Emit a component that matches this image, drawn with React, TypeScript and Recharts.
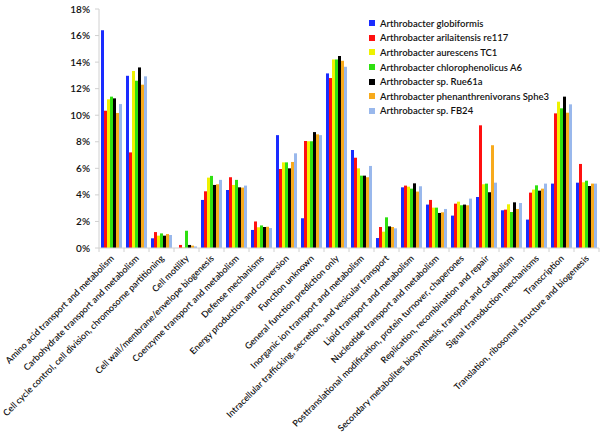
import React from 'react';
import { BarChart, Bar, XAxis, YAxis } from 'recharts';

const categories = [
  'Amino acid transport and metabolism',
  'Carbohydrate transport and metabolism',
  'Cell cycle control, cell division, chromosome partitioning',
  'Cell motility',
  'Cell wall/membrane/envelope biogenesis',
  'Coenzyme transport and metabolism',
  'Defense mechanisms',
  'Energy production and conversion',
  'Function unknown',
  'General function prediction only',
  'Inorganic ion transport and metabolism',
  'Intracellular trafficking, secretion, and vesicular transport',
  'Lipid transport and metabolism',
  'Nucleotide transport and metabolism',
  'Posttranslational modification, protein turnover, chaperones',
  'Replication, recombination and repair',
  'Secondary metabolites biosynthesis, transport and catabolism',
  'Signal transduction mechanisms',
  'Transcription',
  'Translation, ribosomal structure and biogenesis',
];

const globiformis = [16.4, 12.97, 0.73, 0, 3.62, 4.37, 1.36, 8.5, 2.24, 13.15, 7.38, 0.75, 4.57, 3.27, 2.44, 3.84, 2.84, 2.14, 4.85, 4.92];
const arilaitensis = [10.34, 7.2, 1.2, 0.23, 4.27, 5.33, 2.0, 5.95, 8.06, 12.8, 6.8, 1.58, 4.7, 3.62, 3.34, 9.24, 2.89, 4.17, 10.14, 6.33];
const aurescens = [11.2, 13.33, 0.93, 0.05, 5.3, 4.75, 1.56, 6.45, 8.04, 14.2, 6.0, 1.23, 4.62, 3.04, 3.49, 4.8, 3.29, 4.4, 11.02, 4.95];
const chlorophenolicus = [11.4, 12.6, 1.1, 1.3, 5.43, 5.13, 1.7, 6.45, 8.04, 14.2, 5.45, 2.31, 4.47, 3.04, 3.22, 4.85, 2.71, 4.72, 10.52, 5.07];
const rue61a = [11.27, 13.6, 0.93, 0.23, 4.75, 4.57, 1.58, 6.0, 8.73, 14.46, 5.45, 1.63, 4.87, 2.64, 3.27, 4.2, 3.44, 4.32, 11.4, 4.67];
const sphe3 = [10.17, 12.3, 1.05, 0.18, 4.8, 4.55, 1.6, 6.48, 8.56, 14.1, 5.33, 1.58, 4.25, 2.69, 3.22, 7.74, 2.94, 4.47, 10.19, 4.85];
const fb24 = [10.84, 12.93, 0.98, 0.12, 5.13, 4.7, 1.5, 7.13, 8.5, 13.65, 6.18, 1.48, 4.65, 2.94, 3.72, 4.92, 3.39, 4.85, 10.82, 4.85];

const yTicks = [0, 2, 4, 6, 8, 10, 12, 14, 16, 18];

const series = [
  { key: 'Arthrobacter globiformis', values: globiformis, color: '#1a2cff' },
  { key: 'Arthrobacter arilaitensis re117', values: arilaitensis, color: '#ff1010' },
  { key: 'Arthrobacter aurescens TC1', values: aurescens, color: '#eef200' },
  { key: 'Arthrobacter chlorophenolicus A6', values: chlorophenolicus, color: '#2ee010' },
  { key: 'Arthrobacter sp. Rue61a', values: rue61a, color: '#000000' },
  { key: 'Arthrobacter phenanthrenivorans Sphe3', values: sphe3, color: '#f7aa1c' },
  { key: 'Arthrobacter sp. FB24', values: fb24, color: '#99b8ec' },
];

const data = categories.map((name, i) => {
  const row: Record<string, any> = { name };
  series.forEach((s) => { row[s.key] = s.values[i]; });
  return row;
});

const FONT = 'Lato, "Open Sans", sans-serif';

const CategoryTick = (props: any) => {
  const { x, y, payload, index } = props;
  const half = 12.5;
  return (
    <g>
      <line x1={x - half} y1={y} x2={x - half} y2={y + 4} stroke="#d0d0d0" />
      {index === categories.length - 1 && (
        <line x1={x + half} y1={y} x2={x + half} y2={y + 4} stroke="#d0d0d0" />
      )}
      <text
        x={x + 3}
        y={y + 11}
        transform={`rotate(-45 ${x + 3} ${y + 11})`}
        textAnchor="end"
        fontSize={9}
        fontWeight={600}
        fontFamily={FONT}
        fill="#111"
      >
        {payload.value}
      </text>
    </g>
  );
};

export default function App() {
  return (
    <div style={{ position: 'absolute', left: 0, top: 0, width: 600, height: 439, background: '#fff' }}>
      <BarChart
        width={600}
        height={439}
        data={data}
        margin={{ top: 9, right: 1, bottom: 0, left: 0 }}
        barCategoryGap={2}
        barGap={0}
      >
        <XAxis
          dataKey="name"
          interval={0}
          height={191}
          tickLine={false}
          tickSize={0}
          tickMargin={0}
          axisLine={{ stroke: '#d0d0d0' }}
          tick={<CategoryTick />}
        />
        <YAxis
          width={99}
          domain={[0, 18]}
          ticks={yTicks}
          interval={0}
          tickFormatter={(v) => `${v}%`}
          tickSize={4}
          tickMargin={5}
          axisLine={{ stroke: '#d0d0d0' }}
          tickLine={{ stroke: '#d0d0d0' }}
          tick={{ fontSize: 10, fontWeight: 600, fill: '#111', fontFamily: FONT }}
        />
        {series.map((s) => (
          <Bar key={s.key} dataKey={s.key} fill={s.color} isAnimationActive={false} />
        ))}
      </BarChart>
      <div
        style={{
          position: 'absolute',
          left: 369,
          top: 16,
          fontFamily: FONT,
          fontSize: 9.5,
          fontWeight: 600,
          color: '#111',
        }}
      >
        {series.map((s) => (
          <div key={s.key} style={{ display: 'flex', alignItems: 'center', height: 14.6, whiteSpace: 'nowrap' }}>
            <span style={{ width: 6, height: 6, background: s.color, marginRight: 5, display: 'inline-block' }} />
            {s.key}
          </div>
        ))}
      </div>
    </div>
  );
}
